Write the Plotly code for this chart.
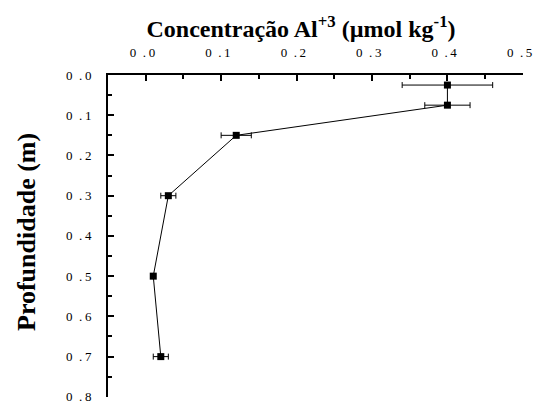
import plotly.graph_objects as go

# Al3+ concentration profile with depth
depth_m = [0.025, 0.075, 0.15, 0.30, 0.50, 0.70]
al_conc = [0.40, 0.40, 0.12, 0.03, 0.01, 0.02]
al_err = [0.06, 0.03, 0.02, 0.01, 0.0, 0.01]

x_tickvals = [0.0, 0.1, 0.2, 0.3, 0.4, 0.5]
y_tickvals = [0.0, 0.1, 0.2, 0.3, 0.4, 0.5, 0.6, 0.7, 0.8]


def spaced(v):
    # wide-spaced decimal label, e.g. "0 . 3"
    a, b = f"{v:.1f}".split(".")
    return f"{a}\u2002.\u2009{b}"


x_ticktext = [spaced(v) + "\u2002" for v in x_tickvals]
y_ticktext = [spaced(v) for v in y_tickvals]

serif = "Liberation Serif, Times New Roman, serif"

fig = go.Figure(
    go.Scatter(
        x=al_conc,
        y=depth_m,
        mode="lines+markers",
        line=dict(color="black", width=1),
        marker=dict(symbol="square", size=7, color="black"),
        error_x=dict(type="data", array=al_err, visible=True,
                     color="black", thickness=1, width=3),
        showlegend=False,
    )
)

tick_style = dict(
    ticks="inside",
    ticklen=6,
    tickwidth=1.5,
    tickcolor="black",
    minor=dict(tickmode="linear", tick0=0, dtick=0.05, ticks="inside",
               ticklen=4, tickwidth=1.5, tickcolor="black"),
    showline=True,
    linecolor="black",
    linewidth=2,
    showgrid=False,
    zeroline=False,
    automargin=False,
    ticklabeloverflow="allow",
    tickfont=dict(family=serif, size=13, color="black"),
)

fig.update_xaxes(
    side="top",
    range=[-0.05, 0.5002],
    tickmode="array",
    tickvals=x_tickvals,
    ticktext=x_ticktext,
    ticklabelstandoff=11,
    **tick_style,
)

fig.update_yaxes(
    range=[0.8004, 0.0],
    tickmode="array",
    tickvals=y_tickvals,
    ticktext=y_ticktext,
    ticklabelstandoff=12,
    **tick_style,
)

fig.update_layout(
    width=533,
    height=401,
    margin=dict(l=108, r=10, t=75, b=4, autoexpand=False),
    paper_bgcolor="white",
    plot_bgcolor="white",
    title=dict(
        text="<b>Concentração Al<sup>+3</sup> (µmol kg<sup>-1</sup>)</b>",
        font=dict(family=serif, size=24, color="black"),
        x=301 / 533,
        xanchor="center",
        y=1 - 29 / 401,
        yanchor="middle",
        xref="container",
        yref="container",
    ),
    annotations=[
        dict(
            text="<b>Profundidade (m)</b>",
            textangle=-90,
            font=dict(family=serif, size=26, color="black"),
            xref="paper",
            yref="paper",
            x=(26 - 108) / 415,
            y=(401 - 4 - 232) / 322,
            xanchor="center",
            yanchor="middle",
            showarrow=False,
        )
    ],
)

fig.write_html("out.html")
